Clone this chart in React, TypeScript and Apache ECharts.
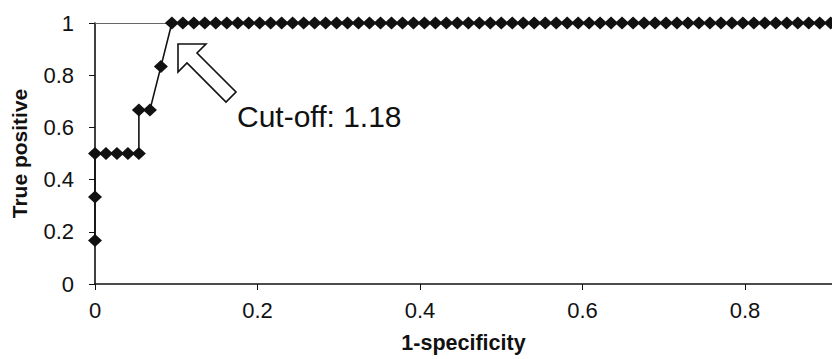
import React, { useEffect, useRef } from "react";
import * as echarts from "echarts";

// 1-specificity (x) and true positive rate (y) of the ROC curve
const fpr: number[] = [
  0, 0, 0, 0.0135, 0.027, 0.0405, 0.054, 0.054, 0.0676, 0.0811, 0.0946,
  0.1081, 0.1216, 0.1351, 0.1486, 0.1622, 0.1757, 0.1892, 0.2027, 0.2162, 0.2297,
  0.2432, 0.2568, 0.2703, 0.2838, 0.2973, 0.3108, 0.3243, 0.3378, 0.3514, 0.3649,
  0.3784, 0.3919, 0.4054, 0.4189, 0.4324, 0.4459, 0.4595, 0.473, 0.4865, 0.5,
  0.5135, 0.527, 0.5405, 0.5541, 0.5676, 0.5811, 0.5946, 0.6081, 0.6216, 0.6351,
  0.6486, 0.6622, 0.6757, 0.6892, 0.7027, 0.7162, 0.7297, 0.7432, 0.7568, 0.7703,
  0.7838, 0.7973, 0.8108, 0.8243, 0.8378, 0.8514, 0.8649, 0.8784, 0.8919, 0.9054,
];
const tpr: number[] = [
  0.167, 0.333, 0.5, 0.5, 0.5, 0.5, 0.5, 0.667, 0.667, 0.833, 1,
  1, 1, 1, 1, 1, 1, 1, 1, 1, 1,
  1, 1, 1, 1, 1, 1, 1, 1, 1, 1,
  1, 1, 1, 1, 1, 1, 1, 1, 1, 1,
  1, 1, 1, 1, 1, 1, 1, 1, 1, 1,
  1, 1, 1, 1, 1, 1, 1, 1, 1, 1,
  1, 1, 1, 1, 1, 1, 1, 1, 1, 1,
];
const xTitle = "1-specificity";
const yTitle = "True positive";
const annotation = "Cut-off: 1.18";

const FONT = "'Liberation Sans', Arial, Helvetica, sans-serif";

export default function App() {
  const ref = useRef<HTMLDivElement>(null);
  useEffect(() => {
    if (!ref.current) return;
    const chart = echarts.init(ref.current, undefined, { renderer: "svg" });
    const data = fpr.map((x, i) => [x, tpr[i]]);
    chart.setOption({
      animation: false,
      backgroundColor: "#ffffff",
      textStyle: { fontFamily: FONT },
      grid: { left: 95, right: 0, top: 23, bottom: 68, containLabel: false },
      xAxis: {
        type: "value",
        min: 0,
        max: 0.907,
        interval: 0.2,
        name: xTitle,
        nameLocation: "middle",
        nameGap: 48,
        nameTextStyle: { fontFamily: FONT, fontSize: 21.5, fontWeight: "bold", color: "#111" },
        axisLine: { show: true, lineStyle: { color: "#111", width: 1.6 } },
        axisTick: { show: true, inside: false, length: 6, lineStyle: { color: "#111", width: 1 } },
        axisLabel: { fontFamily: FONT, fontSize: 22, color: "#111", margin: 15, showMaxLabel: false },
        splitLine: { show: false },
      },
      yAxis: {
        type: "value",
        min: 0,
        max: 1,
        interval: 0.2,
        name: yTitle,
        nameLocation: "middle",
        nameGap: 65,
        nameRotate: 90,
        nameTextStyle: { fontFamily: FONT, fontSize: 21, fontWeight: "bold", color: "#111" },
        axisLine: { show: true, lineStyle: { color: "#111", width: 1.6 } },
        axisTick: { show: true, inside: false, length: 6, lineStyle: { color: "#111", width: 1 } },
        axisLabel: { fontFamily: FONT, fontSize: 22, color: "#111", margin: 21 },
        splitLine: { show: false },
      },
      series: [
        {
          type: "line",
          data,
          symbol: "diamond",
          symbolSize: [14, 13],
          showSymbol: true,
          lineStyle: { color: "#111", width: 1.6 },
          itemStyle: { color: "#111" },
          clip: false,
          markLine: {
            silent: true,
            symbol: "none",
            label: { show: false },
            lineStyle: { color: "#666", width: 1.2, type: "solid" },
            data: [{ yAxis: 1 }],
            z: 1,
          },
          z: 3,
        },
      ],
      graphic: [
        {
          type: "polygon",
          shape: {
            points: [
              [178, 44],
              [206, 44],
              [197, 53],
              [236, 92],
              [226, 102],
              [187, 63],
              [178, 72],
            ],
          },
          style: { fill: "#ffffff", stroke: "#111", lineWidth: 1.6 },
          z: 10,
        },
        {
          type: "text",
          x: 237,
          y: 116,
          style: {
            text: annotation,
            fontFamily: FONT,
            fontSize: 30,
            fill: "#111",
            textVerticalAlign: "middle",
            verticalAlign: "middle",
          },
          z: 10,
        },
      ],
    });
    return () => chart.dispose();
  }, []);
  return (
    <div
      ref={ref}
      style={{ position: "fixed", left: 0, top: 0, width: 832, height: 359, background: "#fff" }}
    />
  );
}
